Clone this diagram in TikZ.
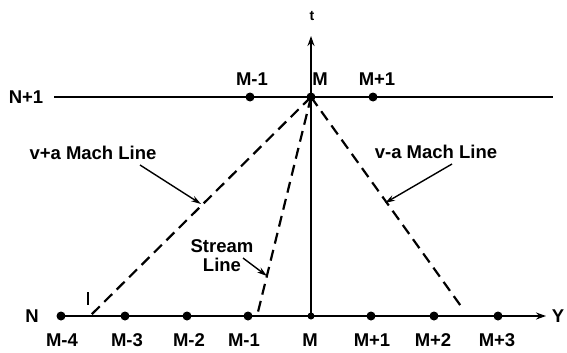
\documentclass[tikz,border=0pt]{standalone}
\usepackage{fontspec}
\setmainfont{Liberation Sans}
\usetikzlibrary{arrows.meta}
\begin{document}
\begin{tikzpicture}[x=1pt,y=-1pt,
  lbl/.style={font=\bfseries\fontsize{18.5}{20}\selectfont, inner sep=0pt},
  axisline/.style={line width=2.2pt},
  machline/.style={line width=2.2pt, dash pattern=on 11pt off 6.5pt},
  dotnode/.style={circle, fill=black, inner sep=0pt, minimum size=9pt},
  ptr/.style={line width=1.4pt, -{Stealth[length=10pt,width=6pt]}},
  axarrow/.style={axisline, -{Stealth[length=10pt,width=7pt]}}]
\useasboundingbox (0,0) rectangle (567,353);
% bottom row dots
\node[dotnode] (bm4) at (61,316) {};
\node[dotnode] (bm3) at (125,316) {};
\node[dotnode] (bm2) at (187,316) {};
\node[dotnode] (bm1) at (248,316) {};
\node[dotnode, minimum size=7pt] (b0) at (311,316) {};
\node[dotnode] (bp1) at (371,316) {};
\node[dotnode] (bp2) at (434,316) {};
\node[dotnode] (bp3) at (498,316) {};
% top row dots
\node[dotnode] (tm1) at (250,97) {};
\node[dotnode] (t0) at (311,97) {};
\node[dotnode] (tp1) at (373,97) {};
% coordinates
\coordinate (yend) at (546,316);
\coordinate (tend) at (311,36);
\coordinate (topL) at (54,97);
\coordinate (topR) at (553,97);
\coordinate (vpaEnd) at (90,316);
\coordinate (slEnd) at (257,316);
\coordinate (vmaEnd) at (463,309);
% axes and lines
\draw[axarrow] (bm4.center) -- (yend);
\draw[axarrow] (b0.center) -- (tend);
\draw[axisline] (topL) -- (topR);
% dashed lines
\draw[machline] (t0.center) -- (vpaEnd);
\draw[machline] (t0.center) -- (slEnd);
\draw[machline] (t0.center) -- (vmaEnd);
% axis labels
\node[lbl] (lt) at (312,16) {\fontsize{14}{15}\selectfont t};
\node[lbl] (lY) at (558,316) {Y};
\node[lbl] (lN) at (32,316) {N};
\node[lbl] (lN1) at (26,97) {N+1};
% top labels
\node[lbl] (ltm1) at (252,79) {M-1};
\node[lbl] (lt0) at (320,79) {M};
\node[lbl] (ltp1) at (377,79) {M+1};
% bottom labels
\node[lbl] (lbm4) at (62,340) {M-4};
\node[lbl] (lbm3) at (127,340) {M-3};
\node[lbl] (lbm2) at (189,340) {M-2};
\node[lbl] (lbm1) at (244,340) {M-1};
\node[lbl] (lb0) at (310,340) {M};
\node[lbl] (lbp1) at (372,340) {M+1};
\node[lbl] (lbp2) at (433,340) {M+2};
\node[lbl] (lbp3) at (497,340) {M+3};
% callouts
\node[lbl] (vpa) at (93,153) {v+a Mach Line};
\node[lbl] (vma) at (436,152) {v-a Mach Line};
\node[lbl, align=center] (sl) at (222,256) {Stream\\[-1pt]Line};
\coordinate (vpaS) at (140,165);
\coordinate (vpaT) at (201,204);
\coordinate (vmaS) at (452,164);
\coordinate (vmaT) at (385,203);
\coordinate (slS) at (243,258);
\coordinate (slT) at (267,276);
\draw[ptr] (vpaS) -- (vpaT);
\draw[ptr] (vmaS) -- (vmaT);
\draw[ptr] (slS) -- (slT);
% small tick mark
\draw[line width=2.4pt] (88,292) -- (88,305);
\end{tikzpicture}
\end{document}
